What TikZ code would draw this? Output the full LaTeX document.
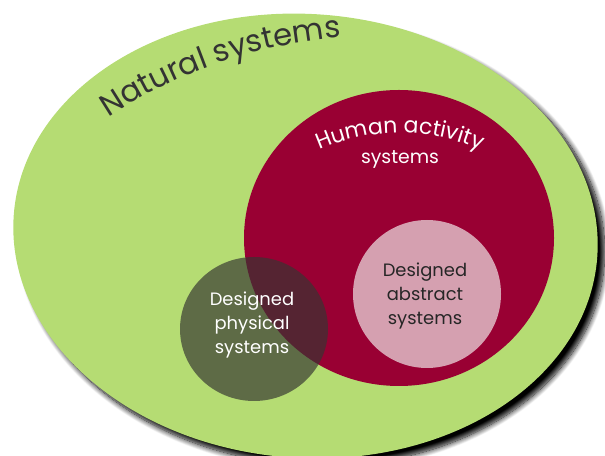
\documentclass[tikz,border=0pt]{standalone}
\usepackage{fontspec}
\setmainfont{Poppins}
\usetikzlibrary{decorations.text,shadows.blur}
\definecolor{natgreen}{RGB}{181,220,115}
\definecolor{humanred}{RGB}{153,0,51}
\definecolor{abstractpink}{RGB}{213,160,176}
\definecolor{physgray}{RGB}{53,54,50}
\definecolor{textgray}{RGB}{51,51,51}
\begin{document}
\begin{tikzpicture}[x=0.02cm, y=0.02cm,
  lbl/.style={align=center, font=\fontsize{10.2}{13.6}\selectfont}]
\useasboundingbox (0,0) rectangle (605,456);
\fill[natgreen, rotate around={-4:(305.5,220)}, blur shadow={shadow xshift=4pt, shadow yshift=-4pt, shadow blur radius=3pt, shadow blur steps=12, shadow opacity=100}] (305.5,220) ellipse (292.5 and 222);
\fill[humanred] (399,218) ellipse (155 and 148);
\fill[abstractpink] (427,162) circle (74);
\fill[physgray, opacity=0.68] (254,127) ellipse (74 and 72);
\path[decorate, decoration={text along path, text align=center, text={|\color{textgray}\fontsize{17.5}{17.5}\selectfont|Natural systems}}] (380,-72) ++(127:492) arc (127:91:492);
\path[decorate, decoration={text along path, text align=center, text={|\color{white}\fontsize{12.5}{12.5}\selectfont|Human activity}}] (400,123) ++(120:200) arc (120:60:200);
\node[lbl, text=white, font=\fontsize{10.7}{13.6}\selectfont] (human) at (400,297) {systems};
\node[lbl, text=white] (physical) at (252,131) {Designed\\physical\\systems};
\node[lbl, text=black!85] (abstract) at (425,160) {Designed\\abstract\\systems};
\end{tikzpicture}
\end{document}
